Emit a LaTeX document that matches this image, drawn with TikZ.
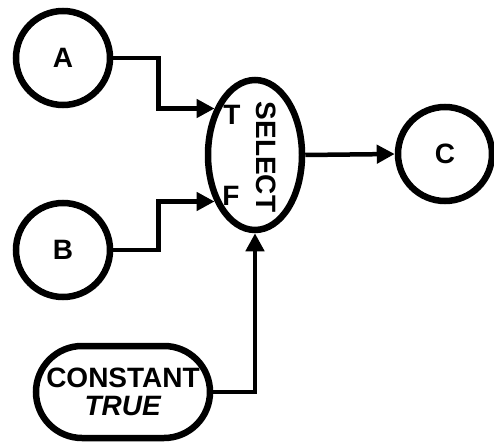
\documentclass[tikz,border=0pt]{standalone}
\usepackage{fontspec}
\setmainfont{Liberation Sans}
\usetikzlibrary{shapes.geometric,shapes.misc,arrows.meta}
\begin{document}
\begin{tikzpicture}[x=1pt,y=-1pt,
  every node/.style={font=\fontsize{28}{28}\selectfont\bfseries},
  var/.style={circle,draw,line width=6.5pt,minimum size=94pt,inner sep=0pt},
  sel/.style={ellipse,draw,line width=6.5pt,minimum width=94pt,minimum height=150pt,inner sep=0pt},
  const/.style={rounded rectangle,draw,line width=6.5pt,minimum width=174pt,minimum height=92pt,inner sep=0pt,align=center},
  conn/.style={line width=4.5pt,-{Triangle[length=18pt,width=18pt]}}]
  \path[use as bounding box] (0,0) rectangle (494,446);
  \node[var] (A) at (63,58) {A};
  \node[var] (B) at (63,250) {B};
  \node[var] (C) at (445,154) {C};
  \node[sel] (S) at (255,155) {};
  \node (T) at (232,115) {T};
  \node (F) at (231,196) {F};
  \node[rotate=-90] (L) at (266,157) {SELECT};
  \node[const] (K) at (123,392) {CONSTANT\\\textit{TRUE}};
  \draw[conn] (A.east) -- ++(45,0) |- (S.131);
  \draw[conn] (B.east) -- ++(45,0) |- (S.229);
  \draw[conn] (S.east) -- (C.west);
  \draw[conn] (K.east) -| (S.south);
\end{tikzpicture}
\end{document}
